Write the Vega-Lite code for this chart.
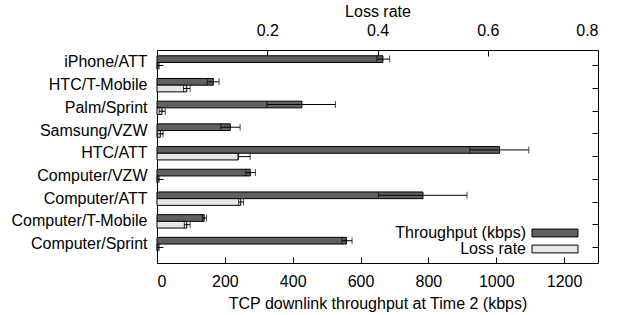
{
  "$schema": "https://vega.github.io/schema/vega-lite/v6.json",
  "width": 441,
  "height": 213,
  "autosize": {"type": "none"},
  "padding": {"left": 157, "top": 50, "right": 20, "bottom": 52},
  "config": {
    "font": "Liberation Sans",
    "view": {"stroke": "black", "strokeWidth": 1},
    "axis": {
      "labelFontSize": 16, "titleFontSize": 16, "labelColor": "black", "titleColor": "black",
      "titleFontWeight": "normal", "tickColor": "black", "tickSize": -6, "domain": false, "grid": false
    },
    "legend": {
      "orient": "none", "legendX": 390, "legendY": 175, "title": null,
      "symbolType": "M-5,-0.85H5V0.85H-5Z", "symbolSize": 84.6,
      "symbolStrokeColor": "black", "symbolStrokeWidth": 1, "rowPadding": -2,
      "labelAlign": "right", "labelOffset": -37, "labelFontSize": 16, "labelColor": "black"
    }
  },
  "data": {
    "values": [
      {"device": "iPhone/ATT", "tp": 666, "tp_lo": 648, "tp_hi": 686, "loss": 0.002, "loss_lo": 0.0, "loss_hi": 0.004},
      {"device": "HTC/T-Mobile", "tp": 166, "tp_lo": 148, "tp_hi": 183, "loss": 0.054, "loss_lo": 0.048, "loss_hi": 0.06},
      {"device": "Palm/Sprint", "tp": 427, "tp_lo": 324, "tp_hi": 526, "loss": 0.009, "loss_lo": 0.004, "loss_hi": 0.015},
      {"device": "Samsung/VZW", "tp": 216, "tp_lo": 188, "tp_hi": 245, "loss": 0.006, "loss_lo": 0.001, "loss_hi": 0.011},
      {"device": "HTC/ATT", "tp": 1010, "tp_lo": 922, "tp_hi": 1096, "loss": 0.147, "loss_lo": 0.148, "loss_hi": 0.169},
      {"device": "Computer/VZW", "tp": 275, "tp_lo": 262, "tp_hi": 290, "loss": 0.002, "loss_lo": 0.0, "loss_hi": 0.004},
      {"device": "Computer/ATT", "tp": 784, "tp_lo": 653, "tp_hi": 914, "loss": 0.152, "loss_lo": 0.148, "loss_hi": 0.157},
      {"device": "Computer/T-Mobile", "tp": 139, "tp_lo": 134, "tp_hi": 146, "loss": 0.054, "loss_lo": 0.0496, "loss_hi": 0.06},
      {"device": "Computer/Sprint", "tp": 558, "tp_lo": 545, "tp_hi": 575, "loss": 0.002, "loss_lo": 0.0, "loss_hi": 0.004}
    ]
  },
  "encoding": {
    "y": {
      "field": "device", "type": "nominal", "sort": null,
      "scale": {"paddingInner": 0.41, "paddingOuter": 0.397, "align": 0.32}
    }
  },
  "layer": [
    {
      "encoding": {
        "y": {
          "field": "device", "type": "nominal", "sort": null,
          "axis": {"orient": "left", "title": null, "bandPosition": 0.75, "labelPadding": 16}
        },
        "yOffset": {"datum": "Throughput (kbps)", "scale": {"domain": ["Throughput (kbps)", "Loss rate"], "paddingInner": 0, "paddingOuter": 0}}
      },
      "layer": [
        {
          "mark": {"type": "bar", "stroke": "black", "strokeWidth": 1},
          "encoding": {
            "x": {
              "field": "tp", "type": "quantitative",
              "scale": {"domain": [0, 1300], "nice": false, "zero": true},
              "axis": {"orient": "bottom", "title": "TCP downlink throughput at Time 2 (kbps)", "values": [0, 200, 400, 600, 800, 1000, 1200], "format": "d", "labelPadding": 16, "titlePadding": 6}
            },
            "color": {"datum": "Throughput (kbps)", "scale": {"domain": ["Throughput (kbps)", "Loss rate"], "range": ["#606060", "#e6e6e6"]}}
          }
        },
        {
          "mark": {"type": "rule", "color": "black", "strokeWidth": 1},
          "encoding": {"x": {"field": "tp_lo", "type": "quantitative"}, "x2": {"field": "tp_hi"}}
        },
        {
          "mark": {"type": "tick", "color": "black", "thickness": 1, "size": 7},
          "encoding": {"x": {"field": "tp_lo", "type": "quantitative"}}
        },
        {
          "mark": {"type": "tick", "color": "black", "thickness": 1, "size": 7},
          "encoding": {"x": {"field": "tp_hi", "type": "quantitative"}}
        }
      ]
    },
    {
      "encoding": {
        "y": {
          "field": "device", "type": "nominal", "sort": null,
          "axis": {"orient": "right", "title": null, "labels": false, "bandPosition": 0.75}
        },
        "yOffset": {"datum": "Loss rate"}
      },
      "layer": [
        {
          "mark": {"type": "bar", "stroke": "black", "strokeWidth": 1},
          "encoding": {
            "x": {
              "field": "loss", "type": "quantitative",
              "scale": {"domain": [0, 0.8], "nice": false, "zero": true},
              "axis": {"orient": "top", "title": "Loss rate", "values": [0.2, 0.4, 0.6, 0.8], "format": ".1f", "labelPadding": 18, "titlePadding": 3}
            },
            "color": {"datum": "Loss rate"}
          }
        },
        {
          "mark": {"type": "rule", "color": "black", "strokeWidth": 1},
          "encoding": {"x": {"field": "loss_lo", "type": "quantitative"}, "x2": {"field": "loss_hi"}}
        },
        {
          "mark": {"type": "tick", "color": "black", "thickness": 1, "size": 7},
          "encoding": {"x": {"field": "loss_lo", "type": "quantitative"}}
        },
        {
          "mark": {"type": "tick", "color": "black", "thickness": 1, "size": 7},
          "encoding": {"x": {"field": "loss_hi", "type": "quantitative"}}
        }
      ]
    }
  ],
  "resolve": {"scale": {"x": "independent"}, "axis": {"x": "independent", "y": "independent"}}
}
